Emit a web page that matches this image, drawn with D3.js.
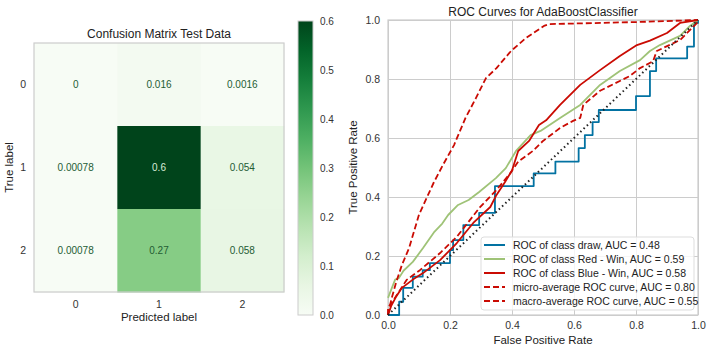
<!DOCTYPE html>
<html>
<head>
<meta charset="utf-8">
<script src="https://cdn.jsdelivr.net/npm/d3@7"></script>
<style>
  body { margin: 0; background: #fff; }
  svg { font-family: "Liberation Sans", Arial, sans-serif; }
  .tick text { fill: #333; }
</style>
</head>
<body>
<div id="viz"></div>
<script>
// confusion matrix data
const cmClasses = ['0', '1', '2'];
const cmValues = [
  [0, 0.016, 0.0016],
  [0.00078, 0.6, 0.054],
  [0.00078, 0.27, 0.058]
];
const cmText = [
  ['0', '0.016', '0.0016'],
  ['0.00078', '0.6', '0.054'],
  ['0.00078', '0.27', '0.058']
];
const colorbarTicks = [0, 0.1, 0.2, 0.3, 0.4, 0.5, 0.6];

// ROC data (fpr, tpr)
const rocDraw = [[0, 0], [0.036, 0], [0.036, 0.045], [0.049, 0.045], [0.049, 0.092], [0.08, 0.092], [0.08, 0.13],
  [0.112, 0.13], [0.112, 0.152], [0.135, 0.152], [0.135, 0.176], [0.2, 0.176], [0.2, 0.22], [0.21, 0.22],
  [0.21, 0.254], [0.243, 0.254], [0.243, 0.305], [0.294, 0.305], [0.294, 0.346], [0.345, 0.346], [0.345, 0.437],
  [0.47, 0.437], [0.47, 0.48], [0.54, 0.48], [0.54, 0.52], [0.615, 0.52], [0.615, 0.566], [0.635, 0.566],
  [0.635, 0.61], [0.66, 0.61], [0.66, 0.654], [0.68, 0.654], [0.68, 0.695], [0.8, 0.695], [0.8, 0.742],
  [0.845, 0.742], [0.845, 0.827], [0.865, 0.827], [0.865, 0.87], [0.965, 0.87], [0.965, 0.91], [0.987, 0.91],
  [0.987, 0.99], [1, 0.99], [1, 1]];
const rocRedWin = [[0, 0.058], [0.012, 0.09], [0.023, 0.12], [0.035, 0.125], [0.05, 0.15], [0.08, 0.18], [0.113, 0.227],
  [0.148, 0.28], [0.175, 0.31], [0.194, 0.339], [0.226, 0.373], [0.26, 0.39], [0.294, 0.417], [0.348, 0.464],
  [0.38, 0.498], [0.413, 0.556], [0.46, 0.61], [0.492, 0.624], [0.555, 0.668], [0.62, 0.712], [0.684, 0.78],
  [0.748, 0.827], [0.813, 0.864], [0.845, 0.895], [0.877, 0.915], [0.942, 0.946], [0.974, 0.98], [1, 1]];
const rocBlueWin = [[0, 0], [0.01, 0.03], [0.025, 0.06], [0.045, 0.092], [0.08, 0.12], [0.113, 0.142], [0.168, 0.186],
  [0.222, 0.244], [0.275, 0.312], [0.33, 0.366], [0.35, 0.407], [0.377, 0.45], [0.4, 0.49], [0.42, 0.556],
  [0.455, 0.59], [0.487, 0.644], [0.51, 0.66], [0.555, 0.712], [0.62, 0.78], [0.684, 0.83], [0.748, 0.878],
  [0.803, 0.915], [0.845, 0.93], [0.9, 0.956], [0.942, 0.99], [1, 1]];
const rocMicro = [[0, 0], [0.01, 0.05], [0.026, 0.11], [0.045, 0.17], [0.068, 0.227], [0.1, 0.34], [0.148, 0.45],
  [0.177, 0.508], [0.213, 0.576], [0.25, 0.668], [0.284, 0.736], [0.316, 0.803], [0.35, 0.837], [0.397, 0.895],
  [0.445, 0.939], [0.503, 0.98], [0.52, 0.986], [0.8, 0.993], [1, 1]];
const rocMacro = [[0, 0], [0, 0.024], [0.03, 0.07], [0.06, 0.119], [0.103, 0.152], [0.168, 0.21], [0.222, 0.265],
  [0.297, 0.366], [0.35, 0.424], [0.394, 0.48], [0.42, 0.52], [0.467, 0.556], [0.5, 0.59], [0.555, 0.634],
  [0.597, 0.658], [0.62, 0.668], [0.63, 0.712], [0.684, 0.76], [0.78, 0.81], [0.813, 0.837], [0.855, 0.86],
  [0.867, 0.895], [0.942, 0.932], [0.997, 0.99], [1, 1]];
const rocTicks = [0, 0.2, 0.4, 0.6, 0.8, 1.0];

const series = [
  { label: 'ROC of class draw, AUC = 0.48', data: rocDraw, color: '#0272a2', dash: null },
  { label: 'ROC of class Red - Win, AUC = 0.59', data: rocRedWin, color: '#9fc377', dash: null },
  { label: 'ROC of class Blue - Win, AUC = 0.58', data: rocBlueWin, color: '#ca0b03', dash: null },
  { label: 'micro-average ROC curve, AUC = 0.80', data: rocMicro, color: '#ca0b03', dash: '6,3' },
  { label: 'macro-average ROC curve, AUC = 0.55', data: rocMacro, color: '#ca0b03', dash: '6,3' }
];

const width = 712, height = 352;
const svg = d3.select('#viz').append('svg')
  .attr('width', width)
  .attr('height', height);

// ---------- confusion matrix ----------
const cm = { left: 34, right: 284, top: 43, bottom: 292 };
const color = d3.scaleSequential(d3.interpolateGreens).domain([0, 0.6]);

const xBand = d3.scaleBand().domain(cmClasses).range([cm.left, cm.right]);
const yBand = d3.scaleBand().domain(cmClasses).range([cm.top, cm.bottom]);

const cells = [];
cmValues.forEach((row, i) => row.forEach((v, j) => cells.push({ r: cmClasses[i], c: cmClasses[j], v, t: cmText[i][j] })));

svg.append('g').selectAll('rect')
  .data(cells)
  .enter().append('rect')
  .attr('x', d => xBand(d.c))
  .attr('y', d => yBand(d.r))
  .attr('width', xBand.bandwidth() + 0.5)
  .attr('height', yBand.bandwidth() + 0.5)
  .style('fill', d => color(d.v));

svg.append('g').selectAll('text')
  .data(cells)
  .enter().append('text')
  .attr('x', d => xBand(d.c) + xBand.bandwidth() / 2)
  .attr('y', d => yBand(d.r) + yBand.bandwidth() / 2)
  .attr('dy', '0.35em')
  .attr('text-anchor', 'middle')
  .style('font-size', '10px')
  .style('fill', d => d.v > 0.4 ? '#d8ecd8' : '#245c34')
  .text(d => d.t);

svg.append('rect')
  .attr('x', cm.left).attr('y', cm.top)
  .attr('width', cm.right - cm.left).attr('height', cm.bottom - cm.top)
  .style('fill', 'none').style('stroke', '#cccccc').style('stroke-width', 1.2);

const cmX = svg.append('g')
  .attr('transform', `translate(0, ${cm.bottom})`)
  .call(d3.axisBottom(xBand).tickSize(0).tickPadding(9));
const cmY = svg.append('g')
  .attr('transform', `translate(${cm.left}, 0)`)
  .call(d3.axisLeft(yBand).tickSize(0).tickPadding(8));
[cmX, cmY].forEach(a => {
  a.select('.domain').remove();
  a.selectAll('text').style('font-size', '10.5px').style('font-family', '"Liberation Sans", Arial, sans-serif');
});

svg.append('text')
  .attr('x', (cm.left + cm.right) / 2).attr('y', 38)
  .attr('text-anchor', 'middle')
  .style('font-size', '12px').style('fill', '#222')
  .text('Confusion Matrix Test Data');
svg.append('text')
  .attr('x', (cm.left + cm.right) / 2).attr('y', 321)
  .attr('text-anchor', 'middle')
  .style('font-size', '11.5px').style('fill', '#222')
  .text('Predicted label');
svg.append('text')
  .attr('transform', `translate(9, ${(cm.top + cm.bottom) / 2}) rotate(-90)`)
  .attr('dy', '0.35em')
  .attr('text-anchor', 'middle')
  .style('font-size', '11.5px').style('fill', '#222')
  .text('True label');

// colorbar
const cb = { x: 298, w: 15, top: 21, bottom: 315 };
const cbScale = d3.scaleLinear().domain([0, 0.6]).range([cb.bottom, cb.top]);
const grad = svg.append('defs').append('linearGradient')
  .attr('id', 'cbgrad').attr('x1', 0).attr('y1', 1).attr('x2', 0).attr('y2', 0);
d3.range(0, 1.0001, 0.1).forEach(t => {
  grad.append('stop').attr('offset', t).attr('stop-color', color(t * 0.6));
});
svg.append('rect')
  .attr('x', cb.x).attr('y', cb.top).attr('width', cb.w).attr('height', cb.bottom - cb.top)
  .style('fill', 'url(#cbgrad)').style('stroke', '#cccccc').style('stroke-width', 1);
const cbAxis = svg.append('g')
  .attr('transform', `translate(${cb.x + cb.w}, 0)`)
  .call(d3.axisRight(cbScale).tickValues(colorbarTicks).tickFormat(d3.format('.1f')).tickSize(0).tickPadding(7));
cbAxis.select('.domain').remove();
cbAxis.selectAll('text').style('font-size', '10px').style('font-family', '"Liberation Sans", Arial, sans-serif');

// ---------- ROC curves ----------
const roc = { left: 388, right: 698, top: 20, bottom: 315 };
const xScale = d3.scaleLinear().domain([0, 1]).range([roc.left, roc.right]);
const yScale = d3.scaleLinear().domain([0, 1]).range([roc.bottom, roc.top]);

const gridX = svg.append('g')
  .attr('transform', `translate(0, ${roc.bottom})`)
  .call(d3.axisBottom(xScale).tickValues(rocTicks).tickSize(-(roc.bottom - roc.top)).tickFormat(''));
const gridY = svg.append('g')
  .attr('transform', `translate(${roc.left}, 0)`)
  .call(d3.axisLeft(yScale).tickValues(rocTicks).tickSize(-(roc.right - roc.left)).tickFormat(''));
[gridX, gridY].forEach(g => {
  g.select('.domain').remove();
  g.selectAll('line').style('stroke', '#cccccc').style('stroke-width', 1);
});

svg.append('rect')
  .attr('x', roc.left).attr('y', roc.top)
  .attr('width', roc.right - roc.left).attr('height', roc.bottom - roc.top)
  .style('fill', 'none').style('stroke', '#cccccc').style('stroke-width', 1.2);

svg.append('clipPath').attr('id', 'rocclip').append('rect')
  .attr('x', roc.left - 2).attr('y', roc.top - 2)
  .attr('width', roc.right - roc.left + 4).attr('height', roc.bottom - roc.top + 4);

const line = d3.line().x(d => xScale(d[0])).y(d => yScale(d[1]));
const plotG = svg.append('g').attr('clip-path', 'url(#rocclip)');

series.forEach(s => {
  plotG.append('path')
    .datum(s.data)
    .attr('d', line)
    .style('fill', 'none')
    .style('stroke', s.color)
    .style('stroke-width', 1.8)
    .style('stroke-dasharray', s.dash)
    .style('stroke-linejoin', 'round');
});

plotG.append('line')
  .attr('x1', xScale(0)).attr('y1', yScale(0))
  .attr('x2', xScale(1)).attr('y2', yScale(1))
  .style('stroke', '#222')
  .style('stroke-width', 2)
  .style('stroke-dasharray', '1.5,3');

const rocXAxis = svg.append('g')
  .attr('transform', `translate(0, ${roc.bottom})`)
  .call(d3.axisBottom(xScale).tickValues(rocTicks).tickFormat(d3.format('.1f')).tickSize(0).tickPadding(7));
const rocYAxis = svg.append('g')
  .attr('transform', `translate(${roc.left}, 0)`)
  .call(d3.axisLeft(yScale).tickValues(rocTicks).tickFormat(d3.format('.1f')).tickSize(0).tickPadding(8));
[rocXAxis, rocYAxis].forEach(a => {
  a.select('.domain').remove();
  a.selectAll('text').style('font-size', '10.5px').style('font-family', '"Liberation Sans", Arial, sans-serif');
});

svg.append('text')
  .attr('x', (roc.left + roc.right) / 2).attr('y', 16)
  .attr('text-anchor', 'middle')
  .style('font-size', '12px').style('fill', '#222')
  .text('ROC Curves for AdaBoostClassifier');
svg.append('text')
  .attr('x', (roc.left + roc.right) / 2).attr('y', 344)
  .attr('text-anchor', 'middle')
  .style('font-size', '11.5px').style('fill', '#222')
  .text('False Positive Rate');
svg.append('text')
  .attr('transform', `translate(353, ${(roc.top + roc.bottom) / 2}) rotate(-90)`)
  .attr('dy', '0.35em')
  .attr('text-anchor', 'middle')
  .style('font-size', '11.5px').style('fill', '#222')
  .text('True Positive Rate');

// legend
const legend = svg.append('g').attr('class', 'legend').attr('transform', 'translate(481, 237)');
legend.append('rect')
  .attr('width', 213).attr('height', 73).attr('rx', 3)
  .style('fill', 'rgba(255,255,255,0.8)').style('stroke', '#dddddd').style('stroke-width', 1);
const legendItem = legend.selectAll('.legend-item')
  .data(series)
  .enter().append('g')
  .attr('class', 'legend-item')
  .attr('transform', (d, i) => `translate(0, ${8 + i * 14})`);
legendItem.append('line')
  .attr('x1', 3).attr('x2', 24).attr('y1', 0).attr('y2', 0)
  .style('stroke', d => d.color)
  .style('stroke-width', 2)
  .style('stroke-dasharray', d => d.dash);
legendItem.append('text')
  .attr('x', 32).attr('y', 0).attr('dy', '0.35em')
  .style('font-size', '10.5px').style('fill', '#222')
  .text(d => d.label);
</script>
</body>
</html>
